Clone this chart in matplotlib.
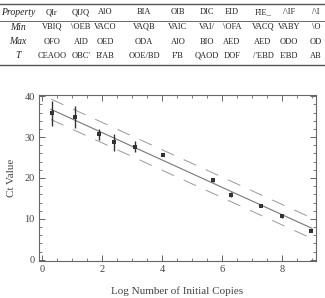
"""
Ct value vs log number of initial copies, with a property table above.
"""
import matplotlib
matplotlib.use("Agg")
import matplotlib.pyplot as plt
from matplotlib.lines import Line2D
from matplotlib.ticker import MultipleLocator
import numpy as np

# table contents (as printed, glyphs garbled in the source)
row_names = ["Property", "Min", "Max", "T"]
table_rows = [
    ["QIr", "QIJQ", "AlO", "BIA", "OIB", "DIC", "EID", "FIE_", "/\\IF", "/\\I"],
    ["VBIQ", "\\OEB", "VACO", "VAQB", "VAIC", "VAI/", "\\OFA", "VACQ", "VABY", "\\O"],
    ["OFO", "AID", "OED", "ODA", "AIO", "BIO", "AED", "AED", "ODO", "OD"],
    ["CEAOO", "OBC'", "B'AB", "OOE/BD", "F'B", "QAOD", "DOF", "/'EBD", "E'BD", "AB"],
]

# measurements
log_copies = [0.32, 1.10, 1.91, 2.41, 3.10, 4.04, 5.69, 6.29, 7.30, 7.99, 8.97]
ct_mean = [35.8, 34.9, 30.7, 28.7, 27.7, 25.7, 19.5, 15.9, 13.1, 10.6, 7.1]
ct_err = [3.0, 2.6, 1.3, 2.1, 1.3, 0.4, 0.4, 0.6, 0.3, 0.3, 0.3]

# regression line end points and band half-width
fit_x = [0.30, 9.00]
fit_y = [36.8, 7.7]
band = 2.5

W, H = 325, 298
fig = plt.figure(figsize=(W / 100, H / 100), dpi=100)
serif = "Liberation Serif"

# --- table ---------------------------------------------------------------
col_x = [18, 52, 81, 105, 144, 178, 207, 232, 263, 289, 316]
row_y = [12.5, 27, 42, 56]
for r, (name, vals) in enumerate(zip(row_names, table_rows)):
    y = 1 - row_y[r] / H
    fig.text(col_x[0] / W, y, name, family=serif, style="italic",
             fontsize=7, ha="center", va="center", color="#222")
    for c, v in enumerate(vals):
        fig.text(col_x[c + 1] / W, y, v, family=serif, fontsize=6,
                 ha="center", va="center", color="#222")
for yy, lw in [(4, 1.0), (20.5, 0.6), (65, 1.0)]:
    fig.add_artist(Line2D([0, 1], [1 - yy / H] * 2, color="#555", lw=lw))

# --- chart ---------------------------------------------------------------
ax = fig.add_axes([39 / W, 37 / H, 276.5 / W, 166 / H])
fx = np.array(fit_x)
fy = np.array(fit_y)
ax.plot(fx, fy, color="#777", lw=0.8)
ax.plot(fx, fy + band, color="#999", lw=0.7, dashes=(14, 11))
ax.plot(fx, fy - band, color="#999", lw=0.7, dashes=(14, 11))
ax.errorbar(log_copies, ct_mean, yerr=ct_err, fmt="s", ms=2.8, mew=0,
            color="#333", ecolor="#333", elinewidth=1.0, capsize=2.5,
            capthick=1.0)

ax.set_xlim(-0.1, 9.12)
ax.set_ylim(-0.3, 40.3)
ax.xaxis.set_major_locator(MultipleLocator(2))
ax.xaxis.set_minor_locator(MultipleLocator(0.5))
ax.yaxis.set_major_locator(MultipleLocator(10))
ax.yaxis.set_minor_locator(MultipleLocator(2))
ax.tick_params(which="both", direction="in", top=True, right=True,
               colors="#666", labelcolor="#444", labelsize=7.5, pad=3)
ax.tick_params(which="major", length=4, width=0.7)
ax.tick_params(which="minor", length=2, width=0.6)
for lab in ax.get_xticklabels() + ax.get_yticklabels():
    lab.set_family(serif)
for s in ax.spines.values():
    s.set_color("#666")
    s.set_linewidth(0.8)

ax.set_xlabel("Log Number of Initial Copies", family=serif, fontsize=8,
              color="#444", labelpad=9)
ax.set_ylabel("Ct Value", family=serif, fontsize=8, color="#444",
              labelpad=6)

fig.savefig("out.png", dpi=100)
